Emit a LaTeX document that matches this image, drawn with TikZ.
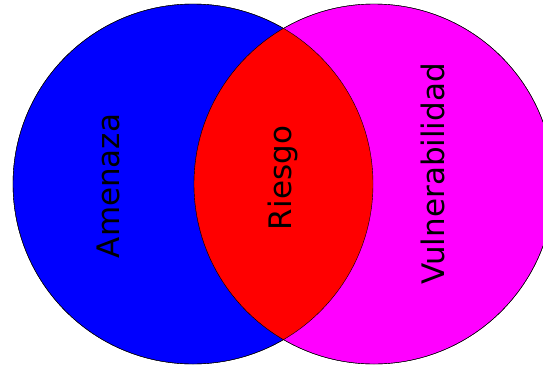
\documentclass[tikz,border=0pt]{standalone}
\usepackage{fontspec}
\setmainfont{DejaVu Sans}
\usetikzlibrary{positioning}
\definecolor{zoneblue}{RGB}{0,0,255}
\definecolor{zonemag}{RGB}{255,0,255}
\definecolor{zonered}{RGB}{255,0,0}
\tikzset{
  zone/.style={circle, draw=black, thin, minimum size=360pt, inner sep=0pt},
  zonetext/.style={rotate=90, inner sep=0pt, font=\fontsize{31}{37}\selectfont}
}

\begin{document}
\begin{tikzpicture}[x=1pt,y=-1pt]
    \useasboundingbox (0,0) rectangle (543,367);

    \node[zone, fill=zoneblue] (amenaza) at (193,184) {};
    \node[zone, fill=zonemag]  (vulner)  at (374,184) {};

    % overlap
    \begin{scope}
        \clip (amenaza.center) circle[radius=180pt];
        \fill[zonered] (vulner.center) circle[radius=180pt];
    \end{scope}
    \draw (amenaza.center) circle[radius=180pt];
    \draw (vulner.center) circle[radius=180pt];

    \node[zonetext] (amenazatxt) at (108.5,186) {Amenaza};
    \node[zonetext] (riesgotxt)  at (282.5,178) {Riesgo};
    \node[zonetext] (vulnertxt)  at (432.5,174) {Vulnerabilidad};
\end{tikzpicture}
\end{document}
